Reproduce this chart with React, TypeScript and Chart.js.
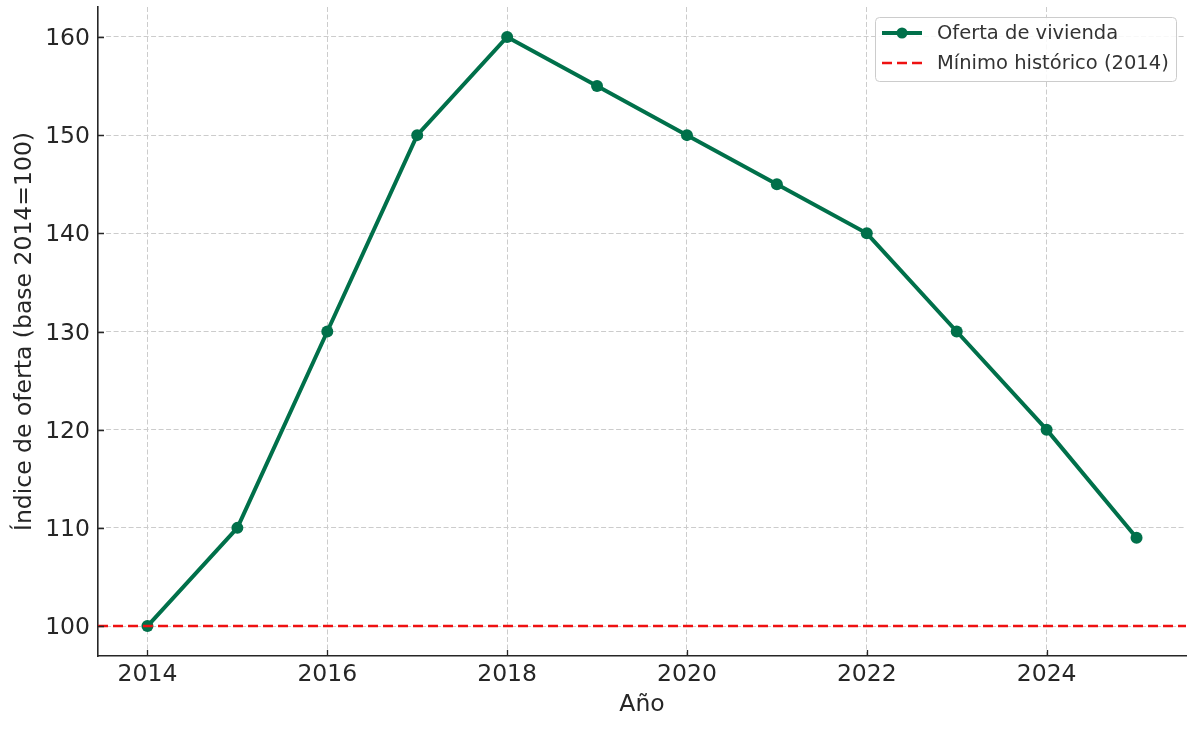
import React, { useEffect, useRef } from 'react';
import { Chart, registerables } from 'chart.js';

Chart.register(...registerables);

const years = [2014, 2015, 2016, 2017, 2018, 2019, 2020, 2021, 2022, 2023, 2024, 2025];
const supplyIndex = [100, 110, 130, 150, 160, 155, 150, 145, 140, 130, 120, 109];
const historicMin = 100;
const xTicks = [2014, 2016, 2018, 2020, 2022, 2024];
const yTicks = [100, 110, 120, 130, 140, 150, 160];
const xMin = 2013.45;
const xMax = 2025.55;
const yMin = 96.95;
const yMax = 163.05;
const seriesLabel = 'Oferta de vivienda';
const minLabel = 'Mínimo histórico (2014)';
const xTitle = 'Año';
const yTitle = 'Índice de oferta (base 2014=100)';

const GREEN = '#00704A';
const RED = '#ee1111';
const INK = '#262626';
const FONT = "'DejaVu Sans', sans-serif";

const inwardTicksPlugin = {
  id: 'inwardTicks',
  afterDatasetsDraw(chart: any) {
    const ctx = chart.ctx;
    const area = chart.chartArea;
    const xs = chart.scales.x;
    const ys = chart.scales.y;
    ctx.save();
    ctx.strokeStyle = INK;
    ctx.lineWidth = 1.3;
    ctx.beginPath();
    xTicks.forEach((v) => {
      const px = Math.round(xs.getPixelForValue(v)) + 0.5;
      ctx.moveTo(px, area.bottom);
      ctx.lineTo(px, area.bottom - 6);
    });
    yTicks.forEach((v) => {
      const py = Math.round(ys.getPixelForValue(v)) + 0.5;
      ctx.moveTo(area.left, py);
      ctx.lineTo(area.left + 6, py);
    });
    ctx.stroke();
    ctx.restore();
  },
};

const legendPlugin = {
  id: 'customLegend',
  afterDraw(chart: any) {
    const ctx = chart.ctx;
    const area = chart.chartArea;
    const w = 301;
    const h = 64;
    const x = area.right - 10 - w;
    const y = area.top + 10;
    ctx.save();
    ctx.beginPath();
    if (ctx.roundRect) ctx.roundRect(x + 0.5, y + 0.5, w, h, 4);
    else ctx.rect(x + 0.5, y + 0.5, w, h);
    ctx.fillStyle = 'rgba(255,255,255,0.85)';
    ctx.fill();
    ctx.strokeStyle = '#cccccc';
    ctx.lineWidth = 1;
    ctx.stroke();

    const rows = [
      { label: seriesLabel, color: GREEN, dash: [] as number[], width: 4, marker: true },
      { label: minLabel, color: RED, dash: [10, 5], width: 2.5, marker: false },
    ];
    rows.forEach((r, i) => {
      const cy = y + 16 + i * 30;
      ctx.beginPath();
      ctx.setLineDash(r.dash);
      ctx.strokeStyle = r.color;
      ctx.lineWidth = r.width;
      ctx.moveTo(x + 7, cy);
      ctx.lineTo(x + 47, cy);
      ctx.stroke();
      ctx.setLineDash([]);
      if (r.marker) {
        ctx.beginPath();
        ctx.fillStyle = r.color;
        ctx.arc(x + 27, cy, 5.5, 0, Math.PI * 2);
        ctx.fill();
      }
      ctx.fillStyle = '#333333';
      ctx.font = `19.5px ${FONT}`;
      ctx.textBaseline = 'middle';
      ctx.textAlign = 'left';
      ctx.fillText(r.label, x + 62, cy + 1);
    });
    ctx.restore();
  },
};

export default function App() {
  const ref = useRef<HTMLCanvasElement | null>(null);

  useEffect(() => {
    if (!ref.current) return;
    const chart = new Chart(ref.current, {
      type: 'line',
      data: {
        datasets: [
          {
            label: seriesLabel,
            data: years.map((yr, i) => ({ x: yr, y: supplyIndex[i] })),
            borderColor: GREEN,
            backgroundColor: GREEN,
            borderWidth: 4,
            pointRadius: 6,
            pointBackgroundColor: GREEN,
            pointBorderWidth: 0,
            tension: 0,
            order: 1,
          },
          {
            label: minLabel,
            data: [
              { x: xMin, y: historicMin },
              { x: xMax, y: historicMin },
            ],
            borderColor: RED,
            borderWidth: 2.5,
            borderDash: [10, 5],
            pointRadius: 0,
            order: 0,
          },
        ],
      },
      options: {
        animation: false,
        responsive: false,
        devicePixelRatio: 1,
        layout: { autoPadding: false, padding: { top: 7, right: 14, left: 0, bottom: 0 } },
        plugins: {
          legend: { display: false },
          tooltip: { enabled: false },
        },
        scales: {
          x: {
            type: 'linear',
            min: xMin,
            max: xMax,
            afterBuildTicks: (s: any) => {
              s.ticks = xTicks.map((v) => ({ value: v }));
            },
            afterFit: (s: any) => {
              s.height = 74;
              s.paddingLeft = 0;
              s.paddingRight = 0;
            },
            ticks: {
              color: INK,
              font: { family: FONT, size: 23.5 },
              padding: 5,
              callback: (v: any) => String(v),
              maxRotation: 0,
            },
            grid: {
              color: '#cccccc',
              lineWidth: 1,
              drawTicks: false,
            },
            border: { display: true, color: INK, width: 1.6, dash: [5, 2.5] },
            title: {
              display: true,
              text: xTitle,
              color: INK,
              font: { family: FONT, size: 23.5 },
              padding: { top: 0, bottom: 11 },
            },
          },
          y: {
            type: 'linear',
            min: yMin,
            max: yMax,
            afterBuildTicks: (s: any) => {
              s.ticks = yTicks.map((v) => ({ value: v }));
            },
            afterFit: (s: any) => {
              s.width = 98;
              s.paddingTop = 0;
              s.paddingBottom = 0;
            },
            ticks: {
              color: INK,
              font: { family: FONT, size: 23.5 },
              padding: 8,
              labelOffset: 2,
              callback: (v: any) => String(v),
            },
            grid: {
              color: '#cccccc',
              lineWidth: 1,
              drawTicks: false,
            },
            border: { display: true, color: INK, width: 1.6, dash: [5, 2.5] },
            title: {
              display: true,
              text: yTitle,
              color: INK,
              font: { family: FONT, size: 23.5 },
              padding: { top: 11, bottom: 0 },
            },
          },
        },
      },
      plugins: [inwardTicksPlugin, legendPlugin],
    } as any);
    return () => chart.destroy();
  }, []);

  return (
    <div style={{ position: 'fixed', left: 0, top: 0, width: 1200, height: 730, background: '#fff' }}>
      <canvas ref={ref} width={1200} height={730} style={{ display: 'block' }} />
    </div>
  );
}
